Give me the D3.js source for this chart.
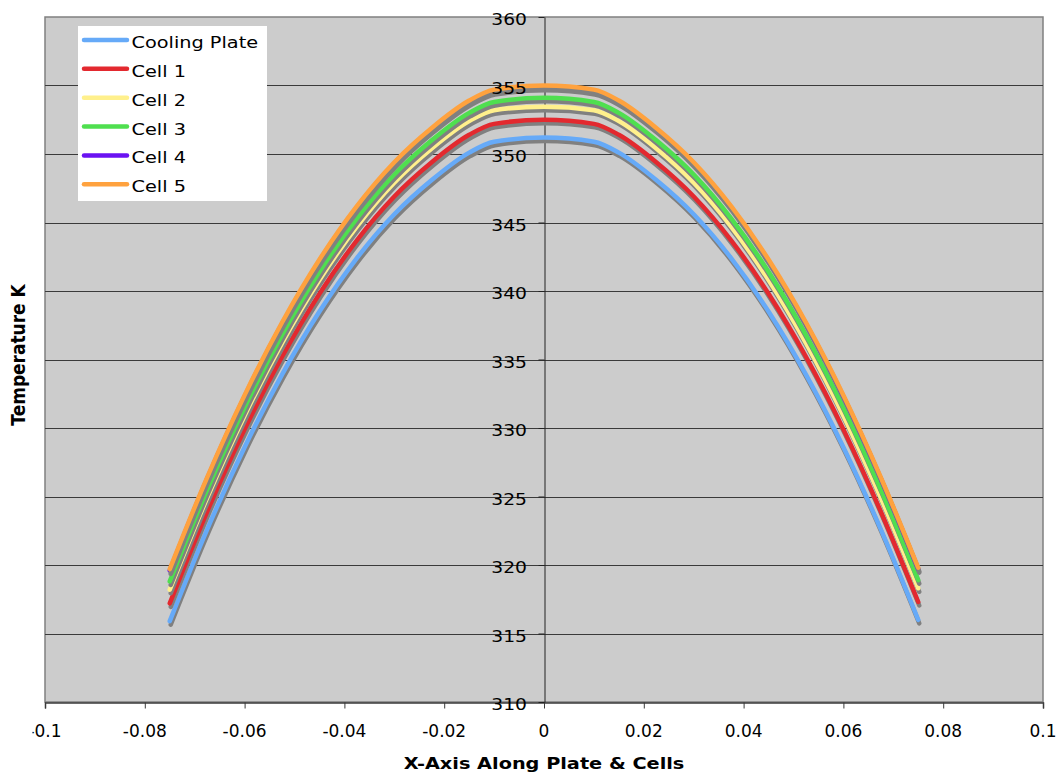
<!DOCTYPE html>
<html>
<head>
<meta charset="utf-8">
<script src="https://cdn.jsdelivr.net/npm/d3@7"></script>
<style>
  html, body { margin: 0; padding: 0; background: #ffffff; }
  svg { display: block; }
  text { font-family: Verdana, "DejaVu Sans", sans-serif; fill: #000; }
</style>
</head>
<body>
<svg id="chart" width="1060" height="775"></svg>
<script>
// Positions along the plate (m)
const xPositions = [-0.075, -0.0675, -0.06, -0.0525, -0.045, -0.0375, -0.03, -0.0225, -0.015, -0.01, 0,
                    0.01, 0.015, 0.0225, 0.03, 0.0375, 0.045, 0.0525, 0.06, 0.0675, 0.075];

// Temperatures (K)
const coolingPlate = [315.9, 322.6, 328.6, 333.9, 338.5, 342.4, 345.6, 348.1, 350.1, 350.9, 351.2,
                      350.9, 350.1, 348.1, 345.6, 342.4, 338.5, 333.9, 328.6, 322.6, 316.0];
const cell1 = [317.2, 323.9, 329.9, 335.2, 339.8, 343.7, 346.9, 349.4, 351.4, 352.2, 352.5,
               352.2, 351.4, 349.4, 346.9, 343.7, 339.8, 335.2, 329.9, 323.9, 317.3];
const cell2 = [318.2, 324.9, 330.9, 336.2, 340.8, 344.7, 347.9, 350.4, 352.4, 353.2, 353.45,
               353.2, 352.4, 350.4, 347.9, 344.7, 340.8, 336.2, 330.9, 324.9, 318.3];
const cell3 = [318.8, 325.5, 331.5, 336.8, 341.4, 345.3, 348.5, 351.0, 353.0, 353.8, 354.1,
               353.8, 353.0, 351.0, 348.5, 345.3, 341.4, 336.8, 331.5, 325.5, 318.9];
const cell4 = [319.6, 326.3, 332.3, 337.6, 342.2, 346.1, 349.3, 351.8, 353.8, 354.6, 354.9,
               354.6, 353.8, 351.8, 349.3, 346.1, 342.2, 337.6, 332.3, 326.3, 319.7];
const cell5 = [319.7, 326.4, 332.4, 337.7, 342.3, 346.2, 349.4, 351.9, 353.9, 354.7, 355.0,
               354.7, 353.9, 351.9, 349.4, 346.2, 342.3, 337.7, 332.4, 326.4, 319.8];

const seriesNames = ["Cooling Plate", "Cell 1", "Cell 2", "Cell 3", "Cell 4", "Cell 5"];
const seriesValues = [coolingPlate, cell1, cell2, cell3, cell4, cell5];
const seriesColors = ["#66aaf8", "#e3292f", "#fff08c", "#4fdf4f", "#6a12f2", "#ffa23e"];

const xTicks = [-0.1, -0.08, -0.06, -0.04, -0.02, 0, 0.02, 0.04, 0.06, 0.08, 0.1];
const xTickLabels = ["-0.1", "-0.08", "-0.06", "-0.04", "-0.02", "0", "0.02", "0.04", "0.06", "0.08", "0.1"];
const yTicks = [310, 315, 320, 325, 330, 335, 340, 345, 350, 355, 360];

const xTitle = "X-Axis Along Plate & Cells";
const yTitle = "Temperature K";

// Layout
const plot = { left: 45, right: 1043, top: 17, bottom: 702 };
const stretch = 1.17; // horizontal text stretch

const svg = d3.select("#chart");
const x = d3.scaleLinear().domain([-0.1, 0.1]).range([plot.left, plot.right]);
const y = d3.scaleLinear().domain([310, 360]).range([plot.bottom, plot.top]);

// Plot area background
svg.append("rect")
  .attr("x", plot.left).attr("y", plot.top)
  .attr("width", plot.right - plot.left).attr("height", plot.bottom - plot.top)
  .attr("fill", "#cccccc").attr("stroke", "#808080").attr("stroke-width", 1.5);

// Horizontal gridlines
svg.append("g")
  .selectAll("line")
  .data(yTicks.filter(t => t > 310 && t < 360))
  .join("line")
  .attr("x1", plot.left).attr("x2", plot.right)
  .attr("y1", d => Math.round(y(d)) + 0.5).attr("y2", d => Math.round(y(d)) + 0.5)
  .attr("stroke", "#3a3a3a").attr("stroke-width", 1);

// X axis along the bottom
const xAxis = d3.axisBottom(x).tickValues(xTicks).tickSize(6).tickFormat("");
const gx = svg.append("g")
  .attr("transform", `translate(0,${plot.bottom + 0.5})`)
  .call(xAxis);
gx.select(".domain").attr("stroke", "#3a3a3a").attr("stroke-width", 1.5);
gx.selectAll(".tick line").attr("stroke", "#3a3a3a");

// Y axis crossing at x = 0
const yAxis = d3.axisLeft(y).tickValues(yTicks).tickSize(6).tickSizeOuter(0).tickFormat("");
const gy = svg.append("g")
  .attr("transform", `translate(${Math.round(x(0)) + 0.5},0)`)
  .call(yAxis);
gy.select(".domain").attr("stroke", "#222").attr("stroke-width", 1);
gy.selectAll(".tick line").attr("stroke", "#222");

// Smoothed series lines with drop shadows
const line = d3.line()
  .x((d, i) => x(xPositions[i]))
  .y(d => y(d))
  .curve(d3.curveMonotoneX);

const seriesG = svg.append("g");
seriesValues.forEach((vals, k) => {
  seriesG.append("path")
    .attr("d", line(vals))
    .attr("transform", "translate(1,3.5)")
    .attr("fill", "none").attr("stroke", "#808080")
    .attr("stroke-width", 4.5).attr("stroke-linejoin", "round").attr("stroke-linecap", "round");
  seriesG.append("path")
    .attr("d", line(vals))
    .attr("fill", "none").attr("stroke", seriesColors[k])
    .attr("stroke-width", 4.5).attr("stroke-linejoin", "round").attr("stroke-linecap", "round");
});

// Y tick labels
svg.append("g")
  .selectAll("text")
  .data(yTicks)
  .join("text")
  .attr("transform", d => `translate(527,${y(d) + 8}) scale(${stretch},1)`)
  .attr("text-anchor", "end")
  .attr("font-size", 16)
  .text(d => d);

// X tick labels (clipped at the left edge of the chart area)
svg.append("clipPath").attr("id", "xlabClip")
  .append("rect").attr("x", 32.5).attr("y", 700).attr("width", 1027.5).attr("height", 60);
svg.append("g")
  .attr("clip-path", "url(#xlabClip)")
  .selectAll("text")
  .data(xTicks)
  .join("text")
  .attr("x", d => x(d))
  .attr("y", 737)
  .attr("text-anchor", "middle")
  .attr("font-size", 17)
  .text((d, i) => xTickLabels[i]);

// Axis titles
svg.append("text")
  .attr("transform", `translate(${x(0)},769) scale(${stretch},1)`)
  .attr("text-anchor", "middle")
  .attr("font-size", 16.5).attr("font-weight", "bold")
  .text(xTitle);

svg.append("text")
  .attr("transform", `translate(24.5,355) scale(${stretch},1) rotate(-90)`)
  .attr("text-anchor", "middle")
  .attr("font-size", 17).attr("font-weight", "bold")
  .text(yTitle);

// Legend
const legend = svg.append("g");
legend.append("rect")
  .attr("x", 78).attr("y", 26).attr("width", 189).attr("height", 175)
  .attr("fill", "#ffffff");
seriesNames.forEach((name, k) => {
  const ly = 40 + k * 28.86;
  legend.append("line")
    .attr("x1", 84).attr("x2", 127).attr("y1", ly).attr("y2", ly)
    .attr("stroke", seriesColors[k]).attr("stroke-width", 4.5).attr("stroke-linecap", "round");
  legend.append("text")
    .attr("transform", `translate(131.5,${ly + 8}) scale(${stretch},1)`)
    .attr("font-size", 16.5)
    .text(name);
});
</script>
</body>
</html>
